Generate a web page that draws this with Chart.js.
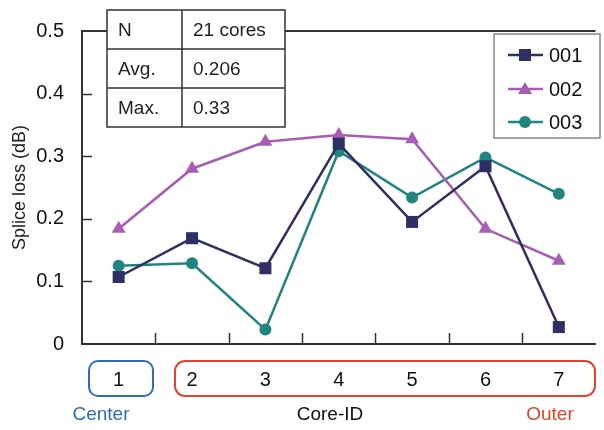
<!DOCTYPE html>
<html>
<head>
<meta charset="utf-8">
<script src="https://cdn.jsdelivr.net/npm/chart.js@4.4.0/dist/chart.umd.min.js"></script>
<style>
  html, body { margin: 0; padding: 0; background: #fff; }
  #wrap { width: 604px; height: 430px; }
</style>
</head>
<body>
<div id="wrap"><canvas id="chart" width="604" height="430"></canvas></div>
<script>
// Datos
var coreIds = ['1', '2', '3', '4', '5', '6', '7'];
var loss001 = [0.107, 0.169, 0.121, 0.320, 0.195, 0.284, 0.027];
var loss002 = [0.184, 0.280, 0.323, 0.334, 0.327, 0.184, 0.133];
var loss003 = [0.125, 0.129, 0.023, 0.308, 0.234, 0.298, 0.240];
var yTicks = [0, 0.1, 0.2, 0.3, 0.4, 0.5];
var tableRows = [['N', '21 cores'], ['Avg.', '0.206'], ['Max.', '0.33']];

var fontName = '"Liberation Sans", Arial, sans-serif';
var axisColor = '#333333';

// marcador simple para la leyenda
function drawMarker(ctx, style, x, y, color) {
    ctx.fillStyle = color;
    ctx.beginPath();
    if (style === 'rect') {
        ctx.rect(x - 6, y - 6, 12, 12);
    } else if (style === 'triangle') {
        ctx.moveTo(x, y - 7);
        ctx.lineTo(x + 7, y + 5);
        ctx.lineTo(x - 7, y + 5);
        ctx.closePath();
    } else {
        ctx.arc(x, y, 6, 0, Math.PI * 2);
    }
    ctx.fill();
}

function roundBox(ctx, x, y, w, h, r, color) {
    ctx.strokeStyle = color;
    ctx.lineWidth = 2;
    ctx.beginPath();
    ctx.roundRect(x, y, w, h, r);
    ctx.stroke();
}

var extrasPlugin = {
    id: 'extras',
    afterDraw: function (chart) {
        var ctx = chart.ctx;
        var area = chart.chartArea;
        var xs = chart.scales.x;
        var ys = chart.scales.y;
        ctx.save();

        // linea superior
        ctx.strokeStyle = axisColor;
        ctx.lineWidth = 2;
        ctx.beginPath();
        ctx.moveTo(area.left, area.top);
        ctx.lineTo(area.right, area.top);
        ctx.stroke();

        // marcas hacia dentro
        ctx.lineWidth = 1.5;
        ctx.beginPath();
        for (var i = 0; i < coreIds.length - 1; i++) {
            var px = Math.round(xs.getPixelForValue(i + 0.5)) + 0.5;
            ctx.moveTo(px, area.bottom);
            ctx.lineTo(px, area.bottom - 11);
        }
        for (var j = 1; j < yTicks.length - 1; j++) {
            var py = Math.round(ys.getPixelForValue(yTicks[j])) + 0.5;
            ctx.moveTo(area.left, py);
            ctx.lineTo(area.left + 10, py);
        }
        ctx.stroke();

        // tabla
        var tx = 107, ty = 10, tw = 178, rh = 39, colX = 182;
        ctx.fillStyle = '#ffffff';
        ctx.fillRect(tx, ty, tw, rh * 3);
        ctx.strokeStyle = '#333333';
        ctx.lineWidth = 1.5;
        ctx.strokeRect(tx, ty, tw, rh * 3);
        ctx.beginPath();
        ctx.moveTo(colX, ty);
        ctx.lineTo(colX, ty + rh * 3);
        ctx.moveTo(tx, ty + rh);
        ctx.lineTo(tx + tw, ty + rh);
        ctx.moveTo(tx, ty + rh * 2);
        ctx.lineTo(tx + tw, ty + rh * 2);
        ctx.stroke();
        ctx.fillStyle = '#222222';
        ctx.font = '19px ' + fontName;
        ctx.textBaseline = 'middle';
        ctx.textAlign = 'left';
        for (var r = 0; r < tableRows.length; r++) {
            ctx.fillText(tableRows[r][0], tx + 11, ty + rh * r + rh / 2 + 1);
            ctx.fillText(tableRows[r][1], colX + 11, ty + rh * r + rh / 2 + 1);
        }

        // leyenda
        var lx = 494, ly = 34;
        ctx.fillStyle = '#ffffff';
        ctx.fillRect(lx, ly, 106, 104);
        ctx.strokeStyle = '#888888';
        ctx.lineWidth = 1.5;
        ctx.strokeRect(lx, ly, 106, 104);
        var rowsY = [55, 89, 122];
        chart.data.datasets.forEach(function (ds, k) {
            var yy = rowsY[k];
            ctx.strokeStyle = ds.borderColor;
            ctx.lineWidth = 2.5;
            ctx.beginPath();
            ctx.moveTo(508, yy);
            ctx.lineTo(543, yy);
            ctx.stroke();
            drawMarker(ctx, ds.pointStyle, 525, yy, ds.borderColor);
            ctx.fillStyle = '#111111';
            ctx.font = '20px ' + fontName;
            ctx.textAlign = 'left';
            ctx.fillText(ds.label, 549, yy + 1);
        });

        // cajas de nucleos
        roundBox(ctx, 89, 361, 64, 35, 9, '#2f6db5');
        roundBox(ctx, 175, 361, 420, 35, 10, '#e5432f');

        ctx.font = '19px ' + fontName;
        ctx.textAlign = 'center';
        ctx.fillStyle = '#2f6db5';
        ctx.fillText('Center', 101, 415);
        ctx.fillStyle = '#111111';
        ctx.fillText('Core-ID', 330, 415);
        ctx.fillStyle = '#e5432f';
        ctx.fillText('Outer', 550, 415);

        ctx.restore();
    }
};

function makeSet(label, data, color, style, radius) {
    return {
        label: label,
        data: data,
        borderColor: color,
        backgroundColor: color,
        borderWidth: 2.5,
        pointStyle: style,
        pointRadius: radius,
        pointHoverRadius: radius,
        pointBorderWidth: 0,
        tension: 0,
        clip: false
    };
}

var chart = new Chart(document.getElementById('chart'), {
    type: 'line',
    data: {
        labels: coreIds,
        datasets: [
            makeSet('001', loss001, '#2e2f62', 'rect', 8.5),
            makeSet('002', loss002, '#a65db3', 'triangle', 8),
            makeSet('003', loss003, '#20857f', 'circle', 6)
        ]
    },
    options: {
        responsive: false,
        devicePixelRatio: 1,
        animation: false,
        layout: { padding: { top: 31, right: 0, left: 0, bottom: 0 } },
        plugins: {
            legend: { display: false },
            tooltip: { enabled: false }
        },
        scales: {
            x: {
                offset: true,
                grid: { display: false, drawTicks: false },
                border: { display: true, color: axisColor, width: 2 },
                ticks: {
                    color: '#111111',
                    font: { family: fontName, size: 20 },
                    padding: 24
                },
                afterFit: function (scale) { scale.height = 86; }
            },
            y: {
                min: 0,
                max: 0.5,
                grid: { display: false, drawTicks: false },
                border: { display: true, color: axisColor, width: 2 },
                afterBuildTicks: function (scale) {
                    scale.ticks = yTicks.map(function (v) { return { value: v }; });
                },
                ticks: {
                    color: '#111111',
                    font: { family: fontName, size: 20 },
                    padding: 18,
                    callback: function (v) { return v === 0 ? '0' : v.toFixed(1); }
                },
                title: {
                    display: true,
                    text: 'Splice loss (dB)',
                    color: '#222222',
                    font: { family: fontName, size: 18 },
                    padding: { top: 9, bottom: 0 }
                },
                afterFit: function (scale) { scale.width = 82; }
            }
        }
    },
    plugins: [extrasPlugin]
});
</script>
</body>
</html>
